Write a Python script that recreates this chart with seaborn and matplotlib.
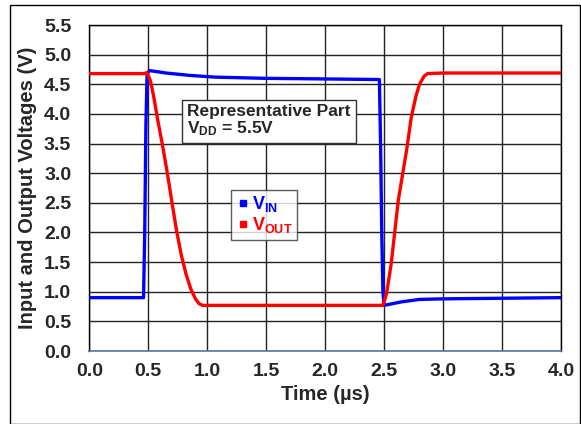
import matplotlib
matplotlib.use("Agg")
import matplotlib.pyplot as plt
import seaborn as sns
import numpy as np
import pandas as pd
from matplotlib.lines import Line2D

# Data
t_in = [0.0, 0.46, 0.47, 0.48, 0.49, 0.51, 0.55, 0.65, 0.85, 1.07, 1.5, 2.0, 2.46, 2.47, 2.48, 2.49, 2.5, 2.55, 2.65, 2.8, 3.0, 3.5, 4.0]
v_in = [0.90, 0.90, 2.0, 3.8, 4.68, 4.73, 4.72, 4.69, 4.65, 4.62, 4.60, 4.59, 4.58, 3.5, 2.0, 1.0, 0.77, 0.79, 0.83, 0.87, 0.88, 0.89, 0.90]

t_out = [0.0, 0.47, 0.49, 0.52, 0.55, 0.58, 0.62, 0.66, 0.70, 0.74, 0.78, 0.82, 0.86, 0.90, 0.93, 0.96, 1.5, 2.0, 2.49, 2.52, 2.56, 2.62, 2.69, 2.73, 2.77, 2.80, 2.84, 2.87, 3.0, 3.5, 4.0]
v_out = [4.68, 4.68, 4.70, 4.55, 4.25, 3.90, 3.48, 3.02, 2.52, 2.03, 1.62, 1.30, 1.05, 0.88, 0.80, 0.77, 0.77, 0.77, 0.77, 0.96, 1.47, 2.54, 3.38, 3.94, 4.30, 4.50, 4.64, 4.68, 4.69, 4.69, 4.69]

x_ticks = [0.0, 0.5, 1.0, 1.5, 2.0, 2.5, 3.0, 3.5, 4.0]
y_ticks = [0.0, 0.5, 1.0, 1.5, 2.0, 2.5, 3.0, 3.5, 4.0, 4.5, 5.0, 5.5]

sns.set_style("white")
plt.rcParams['font.family'] = ['Liberation Sans', 'DejaVu Sans']
plt.rcParams['mathtext.fontset'] = 'custom'
plt.rcParams['mathtext.rm'] = 'Liberation Sans:bold'
plt.rcParams['mathtext.bf'] = 'Liberation Sans:bold'
plt.rcParams['mathtext.it'] = 'Liberation Sans:bold'

fig = plt.figure(figsize=(5.81, 4.24), dpi=100)
ax = fig.add_axes([89.3/581, 1 - 351/424, (561-89.3)/581, (351-25)/424])

# figure frame
fig.patches.append(plt.Rectangle((10/581, 0), 1 - 10/581 - 1/581, 1 - 5/424, transform=fig.transFigure,
                                 fill=False, edgecolor='black', linewidth=1.0, zorder=0))

ax.set_xlim(0, 4)
ax.set_ylim(0, 5.5)
ax.set_xticks(x_ticks)
ax.set_yticks(y_ticks)
ax.set_xticklabels([f"{v:.1f}" for v in x_ticks], fontsize=14, fontweight='bold')
ax.set_yticklabels([f"{v:.1f}" for v in y_ticks], fontsize=14, fontweight='bold')
ax.grid(True, color='#222222', linewidth=1.0)
ax.set_axisbelow(True)
ax.tick_params(axis='y', length=0, pad=13)
ax.tick_params(axis='x', length=0, pad=9)
for s in ['top', 'right', 'left']:
    ax.spines[s].set_color('black')
    ax.spines[s].set_linewidth(1.0)
ax.spines['bottom'].set_color('#5577aa')
ax.spines['bottom'].set_linewidth(1.2)

sns.lineplot(x=t_in, y=v_in, ax=ax, color='#0000ff', linewidth=2.4, sort=False, zorder=3)
sns.lineplot(x=t_out, y=v_out, ax=ax, color='#ff0000', linewidth=2.4, sort=False, zorder=4)

ax.set_xlabel("Time (µs)", fontsize=14.5, fontweight='bold', labelpad=3)
ax.set_ylabel("Input and Output Voltages (V)", fontsize=14.5, fontweight='bold', labelpad=5)

ax.text(0.83, 4.17, "Representative Part\n" + r"V$_{\mathrm{DD}}$ = 5.5V", fontsize=12.5, fontweight='bold',
        va='top', ha='left', linespacing=1.05,
        bbox=dict(boxstyle='square,pad=0.3', facecolor='white', edgecolor='#333333', linewidth=1.0), zorder=5)

handles = [Line2D([], [], marker='s', color='#0000ff', linestyle='none', markersize=5),
           Line2D([], [], marker='s', color='#ff0000', linestyle='none', markersize=5)]
leg = ax.legend(handles, [r"V$_{\mathrm{IN}}$", r"V$_{\mathrm{OUT}}$"], loc='upper left',
                bbox_to_anchor=(0.30, 0.494), borderaxespad=0, frameon=True, fancybox=False, handletextpad=0.1,
                handlelength=0.8, borderpad=0.25, labelspacing=0.05, prop={'size': 13, 'weight': 'bold'})
leg.get_frame().set_edgecolor('#333333')
leg.get_frame().set_linewidth(1.0)
leg.get_texts()[0].set_color('#0000ff')
leg.get_texts()[1].set_color('#ff0000')

fig.savefig("out.png", dpi=100)
